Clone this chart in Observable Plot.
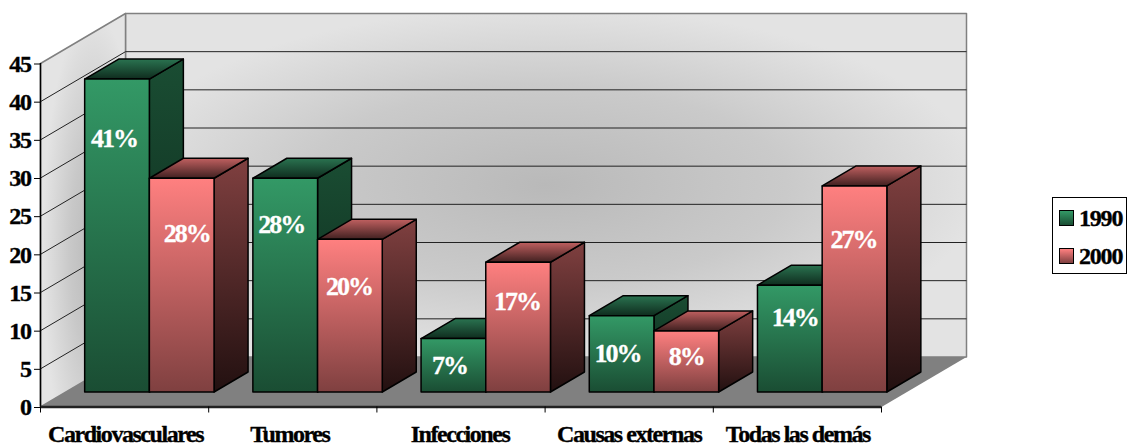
<!DOCTYPE html>
<html lang="es">
<head>
<meta charset="utf-8">
<script src="https://cdn.jsdelivr.net/npm/d3@7"></script>
<script src="https://cdn.jsdelivr.net/npm/@observablehq/plot@0.6"></script>
<style>
  html, body { margin: 0; padding: 0; background: #fff; }
  #chart { position: relative; width: 1128px; height: 444px; overflow: hidden; }
  #chart svg { display: block; }
  #chart svg text { letter-spacing: -1.45px; }
  #chart svg text.percent, #chart svg .percent text { letter-spacing: -2px; }
  #chart svg [aria-label="y-axis tick label"] text { letter-spacing: -1.4px; stroke: #000; stroke-width: 0.35px; }
  .legend {
    position: absolute; left: 1052px; top: 197px; width: 75px; height: 77px;
    box-sizing: border-box; border: 1px solid #000; background: #fff;
    font: bold 24px "Liberation Serif", serif; letter-spacing: -1.2px; color: #000;
    -webkit-text-stroke: 0.35px #000;
  }
  .legend div { position: absolute; left: 6px; display: flex; align-items: center; height: 20px; }
  .legend i { display: block; width: 13px; height: 14px; border: 1px solid #000; margin-right: 5px; }
</style>
</head>
<body>
<div id="chart"></div>
<script>
// Causes of death, share by year
const categories = ["Cardiovasculares", "Tumores", "Infecciones", "Causas externas", "Todas las demás"];
const years = ["1990", "2000"];
const values1990 = [41, 28, 7, 10, 14];
const values2000 = [28, 20, 17, 8, 27];
const yTicks = [0, 5, 10, 15, 20, 25, 30, 35, 40, 45];

// Where each percentage sits: height on the value axis, sideways shift in pixels
const labelLevel1990 = [35.1, 23.9, 5.4, 7.0, 11.7];
const labelLevel2000 = [22.7, 15.8, 13.8, 6.6, 21.9];
const labelShift1990 = [-3, -4, -4, -4, 5];
const labelShift2000 = [5, -1, -1, 0, -1];
// Sideways shift of the category names, in pixels
const categoryShift = [1, -3, -1, 0, 0.5];

// Oblique view: one unit of depth moves a point right and up, in scale units
const pxPerCategory = 841 / 5;
const pxPerValue = 343.5 / 45;
const DX = 85 / pxPerCategory;
const DY = 50 / pxPerValue;
const project = ([u, v, d]) => ({x: u + d * DX, y: v + d * DY});
const poly = (corners) => [...corners, corners[0]].map(project);

const serif = "'Liberation Serif', serif";

// Bars occupy the middle slab of the floor, with 60% gap width between clusters
const depthFront = 0.30, depthBack = 0.70;
const barWidth = 1 / 2.6, gap = 0.111;

function gradient(defs, id, stops) {
  const g = defs.append("linearGradient").attr("id", id)
    .attr("x1", 0).attr("y1", 0).attr("x2", 0).attr("y2", 1);
  stops.forEach(([o, c]) => g.append("stop").attr("offset", o).attr("stop-color", c));
}

const defs = d3.create("svg:defs");
gradient(defs, "front1990", [[0, "#339966"], [1, "#1a4d33"]]);
gradient(defs, "side1990", [[0, "#1a4d33"], [1, "#0b2418"]]);
gradient(defs, "top1990", [[0, "#2a7350"], [1, "#0f2c1e"]]);
gradient(defs, "front2000", [[0, "#ff8080"], [1, "#7f4040"]]);
gradient(defs, "side2000", [[0, "#804040"], [1, "#221010"]]);
gradient(defs, "top2000", [[0, "#c06060"], [1, "#402020"]]);

const backWall = defs.append("radialGradient").attr("id", "backWall")
  .attr("cx", 0.5).attr("cy", 0.5).attr("r", 0.52);
[[0, "#b9b9b9"], [0.55, "#cacaca"], [1, "#e3e3e3"]]
  .forEach(([o, c]) => backWall.append("stop").attr("offset", o).attr("stop-color", c));
const sideWall = defs.append("radialGradient").attr("id", "sideWall")
  .attr("cx", 0.62).attr("cy", 0.6).attr("r", 0.6);
[[0, "#b9b9b9"], [0.45, "#c8c8c8"], [1, "#e4e4e4"]]
  .forEach(([o, c]) => sideWall.append("stop").attr("offset", o).attr("stop-color", c));

// Each bar is three faces, drawn left to right so nearer faces overlap correctly
function barMarks(i, slot, value, year) {
  const a = i + gap + slot * barWidth, b = a + barWidth;
  const faces = [
    [`side${year}`, [[b, 0, depthFront], [b, 0, depthBack], [b, value, depthBack], [b, value, depthFront]]],
    [`top${year}`, [[a, value, depthFront], [b, value, depthFront], [b, value, depthBack], [a, value, depthBack]]],
    [`front${year}`, [[a, 0, depthFront], [b, 0, depthFront], [b, value, depthFront], [a, value, depthFront]]]
  ];
  return faces.map(([paint, corners]) => Plot.line(poly(corners), {
    x: "x", y: "y", fill: `url(#${paint})`, stroke: "#000", strokeWidth: 1.5
  }));
}

const percentLabels = categories.flatMap((c, i) => [
  {slot: 0, value: values1990[i], level: labelLevel1990[i], shift: labelShift1990[i], i},
  {slot: 1, value: values2000[i], level: labelLevel2000[i], shift: labelShift2000[i], i}
]).map((d) => ({
  x: d.i + gap + (d.slot + 0.5) * barWidth + depthFront * DX + d.shift / pxPerCategory,
  y: d.level,
  text: `${d.value}%`
}));

const innerLevels = yTicks.slice(1, -1);
const topLevel = yTicks[yTicks.length - 1];

const plot = Plot.plot({
  width: 1128,
  height: 444,
  marginLeft: 40,
  marginRight: 247,
  marginTop: 63,
  marginBottom: 37.5,
  style: {background: "transparent", overflow: "visible"},
  x: {domain: [0, categories.length], range: [40, 881]},
  y: {domain: [0, topLevel], range: [406.5, 63]},
  marks: [
    () => defs.node(),
    // Walls and floor
    Plot.line(poly([[0, 0, 1], [5, 0, 1], [5, topLevel, 1], [0, topLevel, 1]]), {x: "x", y: "y", fill: "url(#backWall)", stroke: "#808080", strokeWidth: 1.5}),
    Plot.line(poly([[0, 0, 0], [0, 0, 1], [0, topLevel, 1], [0, topLevel, 0]]), {x: "x", y: "y", fill: "url(#sideWall)", stroke: "#808080", strokeWidth: 1.5}),
    Plot.line(poly([[0, 0, 0], [0, 0, 1], [5, 0, 1], [5, 0, 0]]), {x: "x", y: "y", fill: "#808080"}),
    // Gridlines across both walls
    Plot.link(innerLevels, {x1: 0, y1: (v) => v, x2: DX, y2: (v) => v + DY, stroke: "#222", strokeWidth: 1}),
    Plot.link(innerLevels, {x1: DX, y1: (v) => v + DY, x2: 5 + DX, y2: (v) => v + DY, stroke: "#222", strokeWidth: 1}),
    // Bars
    ...categories.flatMap((c, i) => [
      ...barMarks(i, 0, values1990[i], "1990"),
      ...barMarks(i, 1, values2000[i], "2000")
    ]),
    // Axes
    Plot.ruleX([0], {y1: 0, y2: topLevel, stroke: "#000", strokeWidth: 1.5}),
    Plot.ruleY([0], {x1: 0, x2: 5, stroke: "#222", strokeWidth: 2.5}),
    Plot.axisY({
      ticks: yTicks, tickSize: 6, tickPadding: 4, tickFormat: (d) => d, dy: 0.5,
      fontFamily: serif, fontSize: 24, fontWeight: "bold",
      stroke: "#000", fill: "#000", label: null
    }),
    Plot.axisX({ticks: d3.range(0, categories.length + 1), tickSize: 6, tickFormat: () => "", label: null, stroke: "#000"}),
    Plot.text(categories, {
      x: (c, i) => i + 0.5 + categoryShift[i] / pxPerCategory, y: -3.6, text: (c) => c,
      fontFamily: serif, fontSize: 24, fontWeight: "bold", fill: "#000", stroke: "#000", strokeWidth: 0.35
    }),
    Plot.text(percentLabels, {
      x: "x", y: "y", text: "text", className: "percent",
      fontFamily: serif, fontSize: 26, fontWeight: "bold", fill: "#fff", stroke: "#fff", strokeWidth: 0.3
    })
  ]
});

const chart = document.getElementById("chart");
chart.append(plot);

// Legend box at the right of the plot
const swatches = {"1990": "linear-gradient(#339966,#1a4d33)", "2000": "linear-gradient(#ff8080,#7f4040)"};
const legend = d3.select(chart).append("div").attr("class", "legend");
years.forEach((y, i) => {
  const row = legend.append("div").style("top", `${10 + i * 38}px`);
  row.append("i").style("background", swatches[y]);
  row.append("span").text(y);
});
</script>
</body>
</html>
